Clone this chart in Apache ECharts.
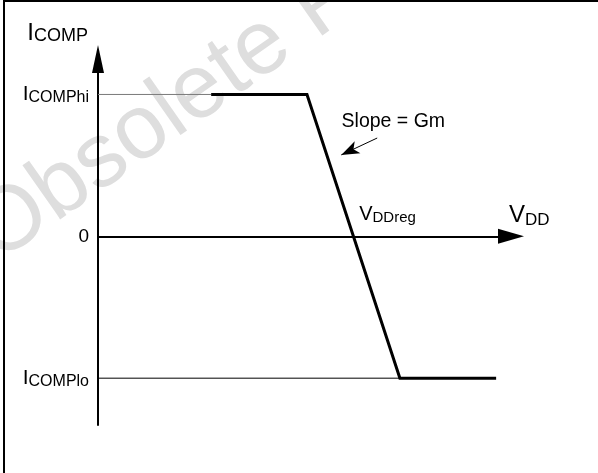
<!DOCTYPE html>
<html>
<head>
<meta charset="utf-8">
<script src="https://cdn.jsdelivr.net/npm/echarts@6/dist/echarts.min.js"></script>
<style>
html,body{margin:0;padding:0;background:#fff;}
#chart{width:598px;height:473px;}
</style>
</head>
<body>
<div id="chart"></div>
<script>
// Normalised values (V_DD axis 0..100, I_COMP: hi = 1, lo = -1)
var curveX = [27.4, 50.6, 73.1, 96.4];
var curveY = [1, 1, -1, -1];
var hiRefX = [0, 27.4];
var hiRefY = [1, 1];
var loRefX = [0, 73.1];
var loRefY = [-1, -1];
var vddRegX = 61.9;
var yTickValues = [-1, 0, 1];
var yTickLabels = ['{m|I}{s|COMPlo}', '{z|0}', '{m|I}{s|COMPhi}'];
var slopeArrowStart = [67.6, 0.693];
var slopeArrowEnd = [58.9, 0.574];
var slopeTextAt = [59.1, 0.805];

function pairs(xs, ys) { return xs.map(function (x, i) { return [x, ys[i]]; }); }

var FONT = "'Liberation Sans', Arial, Helvetica, sans-serif";
var chart = echarts.init(document.getElementById('chart'), null, {renderer: 'canvas'});
chart.setOption({
  animation: false,
  backgroundColor: '#fff',
  textStyle: {fontFamily: FONT},
  graphic: [
    {
      type: 'text', x: 9, y: 280, rotation: 0.611, z: -10, silent: true,
      style: {text: 'Obsolete Product', fontSize: 91, fontFamily: FONT, fill: '#dedede', align: 'left', verticalAlign: 'bottom'}
    },
    {
      type: 'polyline', z: 10, silent: true,
      shape: {points: [[4, 473], [4, 1], [598, 1]]},
      style: {stroke: '#000', lineWidth: 2, fill: null}
    }
  ],
  grid: {left: 98, top: 59, right: 87, bottom: 48, containLabel: false},
  xAxis: {
    type: 'value', min: 0, max: 100,
    axisLine: {onZero: true, symbol: ['none', 'triangle'], symbolSize: [15, 26], lineStyle: {color: '#000', width: 2}},
    axisTick: {show: false}, axisLabel: {show: false}, splitLine: {show: false},
    name: '{m|V}{s|DD}', nameLocation: 'end', nameGap: -2,
    nameTextStyle: {
      align: 'left', verticalAlign: 'bottom', padding: [0, 0, 8, 0],
      rich: {
        m: {fontSize: 24, fontFamily: FONT, color: '#000'},
        s: {fontSize: 17, fontFamily: FONT, color: '#000', padding: [8, 0, 0, 0]}
      }
    }
  },
  yAxis: {
    type: 'value', min: -1.33, max: 1.25,
    axisLine: {symbol: ['none', 'triangle'], symbolSize: [12, 28], lineStyle: {color: '#000', width: 2}},
    axisTick: {show: false}, splitLine: {show: false},
    axisLabel: {
      show: true, customValues: yTickValues, margin: 9,
      formatter: function (v) {
        var i = yTickValues.indexOf(v);
        return i >= 0 ? yTickLabels[i] : '';
      },
      rich: {
        m: {fontSize: 21, fontFamily: FONT, color: '#000'},
        s: {fontSize: 16, fontFamily: FONT, color: '#000', padding: [7, 0, 0, 0]},
        z: {fontSize: 19, fontFamily: FONT, color: '#000'}
      }
    },
    name: '{m|I}{s|COMP}', nameLocation: 'end', nameGap: 14,
    nameTextStyle: {
      align: 'right', verticalAlign: 'bottom', padding: [0, 10, 0, 0],
      rich: {
        m: {fontSize: 24, fontFamily: FONT, color: '#000'},
        s: {fontSize: 18, fontFamily: FONT, color: '#000', padding: [6, 0, 0, 0]}
      }
    }
  },
  series: [
    {
      type: 'line', data: pairs(hiRefX, hiRefY), symbol: 'none', silent: true,
      lineStyle: {color: '#7a7a7a', width: 1}, z: 3
    },
    {
      type: 'line', data: pairs(loRefX, loRefY), symbol: 'none', silent: true,
      lineStyle: {color: '#000', width: 1}, z: 3
    },
    {
      type: 'line', data: pairs(curveX, curveY), symbol: 'none', silent: true,
      lineStyle: {color: '#000', width: 3, join: 'miter'}, z: 4,
      markLine: {
        silent: true, symbol: ['none', 'arrow'], symbolSize: [10, 18],
        lineStyle: {color: '#000', width: 1, type: 'solid'},
        label: {show: false},
        data: [[{coord: slopeArrowStart}, {coord: slopeArrowEnd}]]
      },
      markPoint: {
        silent: true, symbol: 'circle', symbolSize: 1, itemStyle: {color: 'rgba(0,0,0,0)'},
        data: [
          {
            coord: slopeTextAt,
            label: {show: true, position: [0, 0], align: 'left', verticalAlign: 'middle',
              formatter: 'Slope = Gm', fontSize: 19.5, fontFamily: FONT, color: '#000'}
          },
          {
            coord: [vddRegX, 0],
            label: {show: true, position: [6, -21], align: 'left', verticalAlign: 'middle',
              formatter: '{m|V}{s|DDreg}',
              rich: {
                m: {fontSize: 20, fontFamily: FONT, color: '#000'},
                s: {fontSize: 15, fontFamily: FONT, color: '#000', padding: [7, 0, 0, 0]}
              }}
          }
        ]
      }
    }
  ]
});
</script>
</body>
</html>
